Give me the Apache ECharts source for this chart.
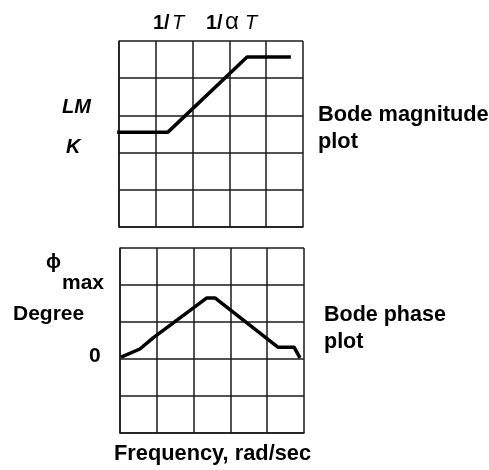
<!DOCTYPE html>
<html>
<head>
<meta charset="utf-8">
<script src="https://cdn.jsdelivr.net/npm/echarts@6/dist/echarts.min.js"></script>
<style>
  html, body { margin: 0; padding: 0; background: #fff; }
  #chart { width: 489px; height: 470px; }
</style>
</head>
<body>
<div id="chart"></div>
<script>
  // magnitude plot corner points (grid units, 5x5 grid)
  var magX = [-0.05, 1.33, 3.48, 4.67];
  var magY = [2.55, 2.55, 4.57, 4.57];
  // phase plot points (grid units, 0 degree at y = 2)
  var phaseX = [0.03, 0.54, 0.9, 2.36, 2.58, 4.29, 4.73, 4.89];
  var phaseY = [2.05, 2.27, 2.57, 3.65, 3.65, 2.32, 2.32, 2.03];

  function pairs(xs, ys) {
    var out = [];
    for (var i = 0; i < xs.length; i++) out.push([xs[i], ys[i]]);
    return out;
  }

  function axis(idx) {
    return {
      type: 'value', gridIndex: idx, min: 0, max: 5, interval: 1,
      axisLine: { show: true, lineStyle: { color: '#1a1a1a', width: 1.5 } },
      axisTick: { show: false },
      axisLabel: { show: false },
      splitLine: { show: true, lineStyle: { color: '#1a1a1a', width: 1.5 } }
    };
  }

  var font = 'Liberation Sans, Arial, sans-serif';
  function txt(x, y, s, size, weight, style) {
    return {
      type: 'text', left: x, top: y,
      style: { text: s, fill: '#000', font: (style || 'normal') + ' ' + (weight || 'bold') + ' ' + size + 'px ' + font }
    };
  }

  var myChart = echarts.init(document.getElementById('chart'));
  var option = {
    backgroundColor: '#fff',
    animation: false,
    grid: [
      { left: 119, top: 41, width: 184, height: 186 },
      { left: 120, top: 248, width: 184, height: 185 }
    ],
    xAxis: [axis(0), axis(1)],
    yAxis: [axis(0), axis(1)],
    series: [
      {
        type: 'line', xAxisIndex: 0, yAxisIndex: 0, data: pairs(magX, magY),
        symbol: 'none', clip: false, lineStyle: { color: '#000', width: 3.5 }
      },
      {
        type: 'line', xAxisIndex: 1, yAxisIndex: 1, data: pairs(phaseX, phaseY),
        symbol: 'none', clip: false, lineStyle: { color: '#000', width: 3.5 }
      }
    ],
    graphic: [
      txt(153, 13, '1/', 20, 'bold'),
      txt(172, 13, 'T', 20, 'normal', 'italic'),
      txt(206, 13, '1/', 20, 'bold'),
      txt(225, 10, '\u03b1', 24, 'normal'),
      txt(245, 13, 'T', 20, 'normal', 'italic'),
      txt(62, 97, 'LM', 20, 'bold', 'italic'),
      txt(66, 137, 'K', 20, 'bold', 'italic'),
      txt(318, 104, 'Bode magnitude', 21.8),
      txt(318, 131, 'plot', 21.8),
      txt(46, 252, '\u03d5', 20),
      txt(62, 273, 'max', 21),
      txt(13, 304, 'Degree', 21),
      txt(89, 346, '0', 21),
      txt(324, 304, 'Bode phase', 21.5),
      txt(324, 331, 'plot', 21.5),
      txt(114, 443, 'Frequency, rad/sec', 21.8)
    ]
  };
  myChart.setOption(option);
</script>
</body>
</html>
